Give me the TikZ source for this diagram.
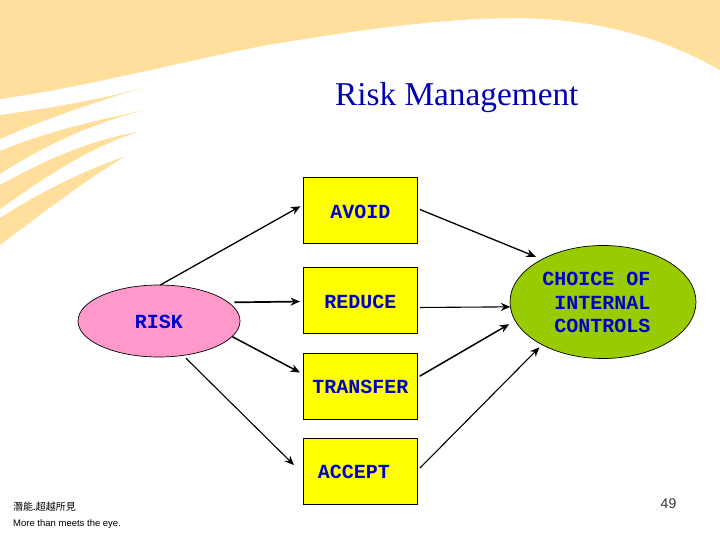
\documentclass[tikz,border=0pt]{standalone}
\usepackage{fontspec}
\setmainfont{Liberation Sans}
\newfontfamily\blockfont{Liberation Mono}[BoldFont={Liberation Mono Bold}]
\newfontfamily\titlefont{Liberation Serif}
\newfontfamily\cjkfont{Noto Sans CJK TC}
\usetikzlibrary{arrows.meta,shapes.geometric}
\definecolor{cream}{HTML}{FFDF9B}
\definecolor{boxyellow}{HTML}{FFFF00}
\definecolor{riskpink}{HTML}{FF99CC}
\definecolor{choicegreen}{HTML}{99CC00}
\definecolor{inkblue}{HTML}{0000CC}
\definecolor{titleblue}{HTML}{0000B4}
\tikzset{
  x=1pt,y=-1pt,
  stepbox/.style={draw=black,line width=0.9pt,fill=boxyellow,rectangle,minimum width=114pt,minimum height=66pt,inner sep=0pt,outer sep=0pt},
  oval/.style={draw=black,line width=0.7pt,ellipse,inner sep=0pt,outer sep=0pt},
  lbl/.style={text=inkblue,inner sep=0pt,outer sep=0pt,align=right,font={\blockfont\bfseries\fontsize{20}{23.5}\selectfont}},
  conn/.style={draw=black,line width=#1,-{Stealth[length=9.5pt,width=8pt]}},
  conn/.default=1pt
}
\begin{document}
\begin{tikzpicture}
\useasboundingbox (0,0) rectangle (720,540);
% background swooshes
\fill[cream] (0,0) -- (720,0) -- (720,70) .. controls (670,42) and (610,20) .. (520,18)
  .. controls (440,18) and (360,30) .. (267,45)
  .. controls (180,62) and (80,88) .. (0,99) -- cycle;
\fill[cream] (0,115) .. controls (50,108) and (100,100) .. (145,87)
  .. controls (95,102) and (45,119) .. (0,139) -- cycle;
\fill[cream] (0,151) .. controls (50,130) and (100,120) .. (148,109)
  .. controls (95,122) and (45,145) .. (0,174) -- cycle;
\fill[cream] (0,185) .. controls (45,160) and (90,140) .. (138,132)
  .. controls (90,147) and (45,177) .. (0,209) -- cycle;
\fill[cream] (0,218) .. controls (40,192) and (85,170) .. (126,156)
  .. controls (85,180) and (40,215) .. (0,245) -- cycle;
% title
\node[text=titleblue,inner sep=0pt,anchor=base west,font={\titlefont\fontsize{33.3}{36}\selectfont}] (title) at (335,106) {Risk Management};
% shapes
\node[stepbox,label={[lbl,yshift=-1.5pt]center:AVOID}] (avoid) at (360.5,210.5) {};
\node[stepbox,label={[lbl,yshift=-1.5pt]center:REDUCE}] (reduce) at (360.5,300.5) {};
\node[stepbox,label={[lbl,yshift=0pt]center:TRANSFER}] (transfer) at (360.5,386.5) {};
\node[stepbox,label={[lbl,xshift=-6.5pt,yshift=0pt]center:ACCEPT}] (accept) at (360.5,471.5) {};
\node[oval,fill=riskpink,minimum width=162pt,minimum height=72pt,label={[lbl,yshift=-1pt]center:RISK}] (risk) at (159,321) {};
\node[oval,fill=choicegreen,minimum width=186pt,minimum height=113pt,label={[lbl,xshift=-6.5pt,yshift=-0.5pt]center:CHOICE OF\\INTERNAL\\CONTROLS}] (choice) at (603,302) {};
% connectors
\draw[conn=1.3pt,shorten >=3.5pt] (risk.88) -- (avoid.174.5);
\draw[conn=1.7pt,shorten <=6pt,shorten >=3.5pt] (risk.15.4) -- (reduce.181.4);
\draw[conn=1.5pt,shorten >=4pt] (risk.348.5) -- (transfer.168.6);
\draw[conn=1.1pt,shorten <=4pt,shorten >=13.4pt] (risk.305.3) -- (accept.183.5);
\draw[conn=1.3pt,shorten <=2.7pt,shorten >=6.8pt] (avoid.2.2) -- (choice.145);
\draw[conn=1.1pt,shorten <=2.5pt] (reduce.353.2) -- (choice.183.3);
\draw[conn=1.5pt,shorten <=2.5pt,shorten >=7pt] (transfer.9.5) -- (choice.192.7);
\draw[conn=1.1pt,shorten <=3.5pt,shorten >=3.7pt] (accept.1.7) -- (choice.215.5);
% footer
\node[inner sep=0pt,anchor=west,font={\cjkfont\fontsize{10}{11}\selectfont}] (cn) at (13,507) {潛能.超越所見};
\node[inner sep=0pt,anchor=west,font={\fontsize{9.5}{10}\selectfont}] (en) at (13,524) {More than meets the eye.};
\node[inner sep=0pt,anchor=center,text=black!80,font={\fontsize{14}{16}\selectfont}] (num) at (668.5,504) {49};
\end{tikzpicture}
\end{document}
